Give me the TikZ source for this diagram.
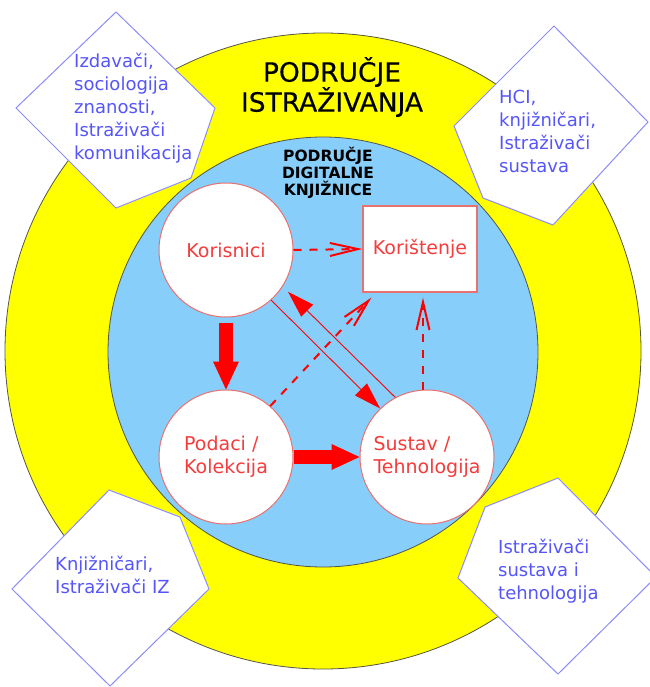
\documentclass[tikz,border=0pt]{standalone}
\usepackage{fontspec}
\setmainfont{DejaVu Sans}
\newfontfamily\titlefont[FakeBold=0.35]{DejaVu Sans}
\usetikzlibrary{arrows.meta,calc}
\definecolor{ringyellow}{RGB}{255,255,0}
\definecolor{innerblue}{RGB}{135,206,250}
\definecolor{edgegray}{RGB}{85,85,70}
\definecolor{nodered}{RGB}{232,112,112}
\definecolor{textred}{RGB}{245,60,60}
\definecolor{arrred}{RGB}{255,0,0}
\definecolor{dedge}{RGB}{140,140,250}
\definecolor{dtext}{RGB}{85,85,250}
\tikzset{
 circnode/.style={circle, draw=nodered, line width=1pt, fill=white, minimum size=134pt, inner sep=0pt, text=textred, align=left, font=\fontsize{19}{23}\selectfont},
 boxnode/.style={rectangle, draw=nodered, line width=1.3pt, fill=white, minimum width=114pt, minimum height=86pt, inner sep=0pt, text=textred, font=\fontsize{19}{23}\selectfont},
 dshape/.style={draw=dedge, line width=1pt, fill=white, line join=miter},
 dlabel/.style={anchor=west, inner sep=0pt, align=left, text=dtext, font=\fontsize{18}{23}\selectfont},
 blockarrow/.style={draw=arrred, line width=14pt, -{Triangle[length=28pt,width=26pt,line width=0pt]}},
 thinarrow/.style={draw=arrred, line width=0.9pt, -{Triangle[length=27pt,width=17pt,line width=0pt]}},
 dasharrow/.style={draw=arrred, line width=2pt, dash pattern=on 8pt off 8pt, -{Straight Barb[length=28pt,width=13pt]}},
}
\begin{document}
\begin{tikzpicture}[x=1pt,y=-1pt]
\useasboundingbox (0,0) rectangle (649,687);
% rings
\filldraw[fill=ringyellow, draw=edgegray, line width=0.8pt] (323,351) circle (318pt);
\filldraw[fill=innerblue, draw=edgegray, line width=0.8pt] (323,352) circle (215pt);
% titles
\node[align=center, inner sep=0pt, font=\titlefont\fontsize{26.5}{30}\selectfont] (title) at (332,87) {PODRUČJE\\ISTRAŽIVANJA};
\node[align=center, inner sep=0pt, font=\bfseries\fontsize{15.5}{17}\selectfont] (subtitle) at (328,173) {PODRUČJE\\DIGITALNE\\KNJIŽNICE};
% nodes
\node[circnode] (kor) at (226,250) {Korisnici};
\node[circnode] (pod) at (226,457) {Podaci /\\Kolekcija};
\node[circnode] (sus) at (427,457) {Sustav /\\Tehnologija};
\node[boxnode] (use) at (420,249) {Korištenje};
% connectors
\draw[dasharrow] (kor.east) -- (use.west);
\draw[blockarrow, shorten <=5pt] (kor.south) -- (pod.north);
\draw[blockarrow] (pod.east) -- (sus.west);
\draw[thinarrow] (kor.-48) -- (sus.134);
\draw[thinarrow] (sus.118) -- ($(kor.-34)+(6,4)$);
\draw[dasharrow] (pod.49) -- ($(use.south west)+(9,5)$);
\draw[dasharrow] ($(sus.north)+(-4,0)$) -- ($(use.south)+(3,5)$);
% corner diamonds
\draw[dshape] (116,12) -- (215,108) -- (191,178) -- (116,208) -- (16,108) -- cycle;
\node[dlabel] (d1) at (74,108) {Izdavači,\\sociologija\\znanosti,\\Istraživači\\komunikacija};
\draw[dshape] (554,26) -- (648,122) -- (553,225) -- (483,198) -- (454,126) -- cycle;
\node[dlabel] (d2) at (499,131) {HCI,\\knjižničari,\\Istraživači\\sustava};
\draw[dshape] (109,490) -- (180,517) -- (209,589) -- (110,686) -- (12,589) -- cycle;
\node[dlabel] (d3) at (55,575) {Knjižničari,\\Istraživači IZ};
\draw[dshape] (558,478) -- (656,577) -- (558,674) -- (458,578) -- (485,507) -- cycle;
\node[dlabel] (d4) at (498,571) {Istraživači\\sustava i\\tehnologija};
\end{tikzpicture}
\end{document}
